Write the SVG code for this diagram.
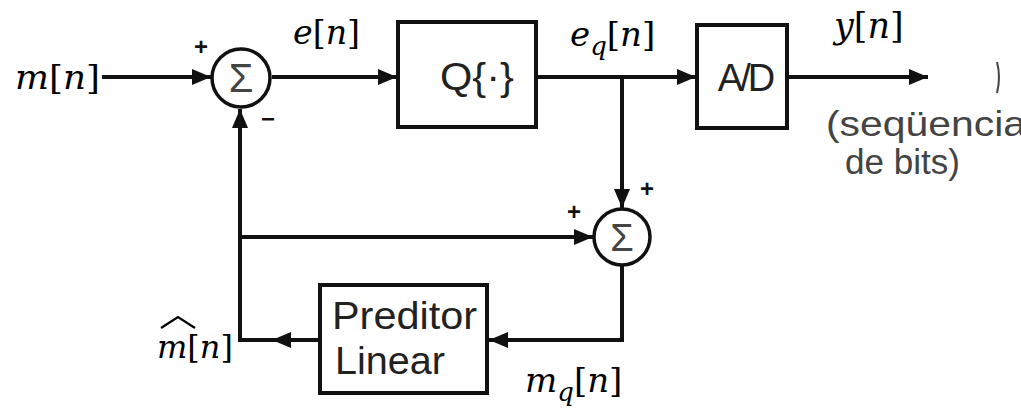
<svg xmlns="http://www.w3.org/2000/svg" width="1021" height="415" viewBox="0 0 1021 415">
<style>
.ln{fill:none;stroke:#111;stroke-width:4}
.box{fill:#fff;stroke:#111;stroke-width:4}
.sum{fill:#fff;stroke:#111;stroke-width:3.5}
.lbl{font-family:"Liberation Sans",Arial,sans-serif;fill:#222}
.sig{font-family:"Liberation Sans",Arial,sans-serif;fill:#444}
.math{font-family:"DejaVu Serif","Liberation Serif",serif;fill:#000}
.it{font-style:italic}
.pm{font-family:"Liberation Sans",Arial,sans-serif;font-weight:bold;fill:#111;font-size:24px}
</style>
<defs>
<marker id="ah" markerUnits="userSpaceOnUse" markerWidth="20" markerHeight="16" refX="19" refY="8" orient="auto">
<path d="M0,0 L19,8 L0,16 z" fill="#111"/>
</marker>
</defs>
<rect width="1021" height="415" fill="#fff"/>
<g id="connectors">
<line class="ln" x1="102" y1="77" x2="211" y2="77" marker-end="url(#ah)"/>
<line class="ln" x1="272" y1="77" x2="397" y2="77" marker-end="url(#ah)"/>
<line class="ln" x1="536" y1="77" x2="696" y2="77" marker-end="url(#ah)"/>
<line class="ln" x1="787" y1="77" x2="928" y2="77" marker-end="url(#ah)"/>
<line class="ln" x1="622" y1="77" x2="622" y2="208" marker-end="url(#ah)"/>
<polyline class="ln" points="622,265 622,340 489,340" marker-end="url(#ah)"/>
<line class="ln" x1="320" y1="340" x2="272" y2="340" marker-end="url(#ah)"/>
<polyline class="ln" points="275,340 240,340 240,109" marker-end="url(#ah)"/>
<line class="ln" x1="240" y1="237" x2="593" y2="237" marker-end="url(#ah)"/>
</g>
<g id="sum1">
<circle class="sum" cx="241" cy="78" r="29"/>
<text class="sig" x="241" y="92" font-size="40" text-anchor="middle">Σ</text>
<text class="pm" x="201" y="55" text-anchor="middle">+</text>
<text class="pm" x="268" y="127" text-anchor="middle">−</text>
</g>
<g id="quantizer">
<rect class="box" x="398" y="22" width="138" height="105"/>
<text class="lbl" x="477" y="90" font-size="38" text-anchor="middle" textLength="74" lengthAdjust="spacingAndGlyphs">Q{·}</text>
</g>
<g id="ad">
<rect class="box" x="697" y="25" width="90" height="103"/>
<text class="lbl" x="745" y="91" font-size="38" text-anchor="middle" letter-spacing="-3">A/D</text>
</g>
<g id="sum2">
<circle class="sum" cx="622" cy="237" r="28"/>
<text class="sig" x="622" y="251" font-size="38" text-anchor="middle">Σ</text>
<text class="pm" x="574" y="220" text-anchor="middle">+</text>
<text class="pm" x="647" y="197" text-anchor="middle">+</text>
</g>
<g id="preditor">
<rect class="box" x="320" y="285" width="167" height="108"/>
<text class="lbl" x="332" y="329" font-size="38" textLength="145" lengthAdjust="spacingAndGlyphs">Preditor</text>
<text class="lbl" x="335" y="374" font-size="38" textLength="110" lengthAdjust="spacingAndGlyphs">Linear</text>
</g>
<g id="labels">
<text class="math" x="15" y="89" font-size="34" textLength="85" lengthAdjust="spacingAndGlyphs"><tspan class="it">m</tspan>[<tspan class="it">n</tspan>]</text>
<text class="math" x="293" y="44" font-size="34" textLength="67" lengthAdjust="spacingAndGlyphs"><tspan class="it">e</tspan>[<tspan class="it">n</tspan>]</text>
<text class="math" x="570" y="46" font-size="34"><tspan class="it">e</tspan><tspan class="it" font-size="26" dy="9">q</tspan><tspan dy="-9">[</tspan><tspan class="it">n</tspan>]</text>
<text class="math" x="834" y="38" font-size="35"><tspan class="it">y</tspan>[<tspan class="it">n</tspan>]</text>
<text class="math" x="157" y="358" font-size="32"><tspan class="it">m</tspan>[<tspan class="it">n</tspan>]</text>
<path d="M161,328 L178,317 L195,328" fill="none" stroke="#000" stroke-width="2.2"/>
<text class="math" x="525" y="392" font-size="34"><tspan class="it">m</tspan><tspan class="it" font-size="26" dy="9">q</tspan><tspan dy="-9">[</tspan><tspan class="it">n</tspan>]</text>
<text class="sig" x="826" y="136" font-size="35" textLength="200" lengthAdjust="spacingAndGlyphs">(seqüencia</text>
<text class="sig" x="845" y="174" font-size="35" textLength="115" lengthAdjust="spacingAndGlyphs">de bits)</text>
<path d="M997,62 Q1001,77 997,93" fill="none" stroke="#444" stroke-width="2"/>
</g>
</svg>
